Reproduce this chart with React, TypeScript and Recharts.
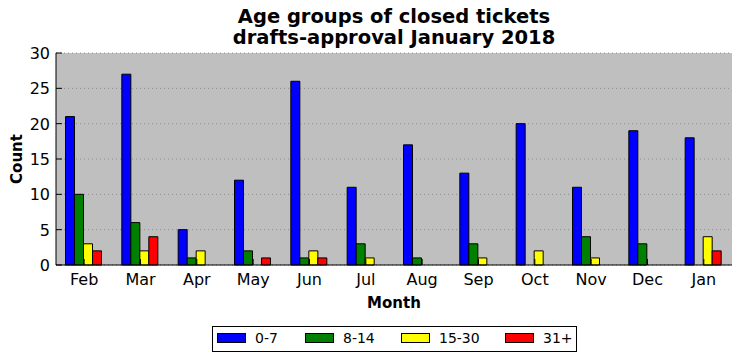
import React from "react";
import { BarChart, Bar, XAxis, YAxis, CartesianGrid, Label } from "recharts";

const months = ["Feb", "Mar", "Apr", "May", "Jun", "Jul", "Aug", "Sep", "Oct", "Nov", "Dec", "Jan"];
const age0to7 = [21, 27, 5, 12, 26, 11, 17, 13, 20, 11, 19, 18];
const age8to14 = [10, 6, 1, 2, 1, 3, 1, 3, 0, 4, 3, 0];
const age15to30 = [3, 2, 2, 0, 2, 1, 0, 1, 2, 1, 0, 4];
const age31plus = [2, 4, 0, 1, 1, 0, 0, 0, 0, 0, 0, 2];
const yTicks = [0, 5, 10, 15, 20, 25, 30];
const seriesKeys = ["a", "b", "c", "d"];
const seriesNames = ["0-7", "8-14", "15-30", "31+"];
const seriesColors = ["#0000ff", "#008000", "#ffff00", "#ff0000"];

const FONT = "'DejaVu Sans', sans-serif";

const data = months.map((m, i) => ({
  month: m,
  a: age0to7[i],
  b: age8to14[i],
  c: age15to30[i],
  d: age31plus[i],
}));

const BottomTick = (props: any) => {
  const { x, y, payload } = props;
  return (
    <g>
      <line x1={x} y1={y} x2={x} y2={y - 6} stroke="#000" />
      <text x={x} y={y + 20} textAnchor="middle" fontSize={16} fill="#000" fontFamily={FONT}>
        {payload.value}
      </text>
    </g>
  );
};

const TopTick = (props: any) => {
  const { x, y } = props;
  return <line x1={x} y1={y} x2={x} y2={y + 6} stroke="#000" />;
};

const LeftTick = (props: any) => {
  const { x, y, payload } = props;
  return (
    <g>
      <line x1={x} y1={y} x2={x + 6} y2={y} stroke="#000" />
      <text x={x - 6} y={y + 6} textAnchor="end" fontSize={16} fill="#000" fontFamily={FONT}>
        {payload.value}
      </text>
    </g>
  );
};

const RightTick = (props: any) => {
  const { x, y } = props;
  return <line x1={x} y1={y} x2={x - 6} y2={y} stroke="#000" />;
};

const legendX = [217, 305, 401, 505];

export default function App() {
  return (
    <div style={{ position: "absolute", left: 0, top: 0, width: 742, height: 361, background: "#fff", fontFamily: FONT }}>
      <div
        style={{
          position: "absolute",
          left: 0,
          width: 788,
          top: 6,
          textAlign: "center",
          fontWeight: "bold",
          fontSize: 19.5,
          lineHeight: "21px",
          color: "#000",
        }}
      >
        <div>Age groups of closed tickets</div>
        <div>drafts-approval January 2018</div>
      </div>
      <BarChart
        width={742}
        height={361}
        data={data}
        margin={{ top: 53, right: 10, left: 0, bottom: 66 }}
        barCategoryGap={9.5}
        barGap={0}
      >
        <CartesianGrid
          vertical={false}
          fill="#bfbfbf"
          stroke="#8c8c8c"
          strokeDasharray="1 3"
          horizontalValues={yTicks}
        />
        <XAxis
          dataKey="month"
          interval={0}
          height={30}
          tickSize={0}
          tickMargin={0}
          tickLine={false}
          axisLine={{ stroke: "#000" }}
          tick={<BottomTick />}
        >
          <Label
            content={(p: any) => {
              const vb = p.viewBox;
              return (
                <text
                  x={vb.x + vb.width / 2}
                  y={308}
                  textAnchor="middle"
                  fontSize={15}
                  fontWeight="bold"
                  fill="#000"
                  fontFamily={FONT}
                >
                  Month
                </text>
              );
            }}
          />
        </XAxis>
        <XAxis
          xAxisId="top"
          dataKey="month"
          orientation="top"
          interval={0}
          height={0}
          tickSize={0}
          tickMargin={0}
          tickLine={false}
          axisLine={{ stroke: "#000" }}
          tick={<TopTick />}
        />
        <YAxis
          domain={[0, 30]}
          ticks={yTicks}
          interval={0}
          width={56}
          tickSize={0}
          tickMargin={0}
          tickLine={false}
          axisLine={{ stroke: "#000" }}
          tick={<LeftTick />}
        >
          <Label
            content={(p: any) => {
              const vb = p.viewBox;
              const cy = vb.y + vb.height / 2;
              return (
                <text
                  x={17}
                  y={cy}
                  transform={`rotate(-90, 17, ${cy})`}
                  textAnchor="middle"
                  dominantBaseline="central"
                  fontSize={15}
                  fontWeight="bold"
                  fill="#000"
                  fontFamily={FONT}
                >
                  Count
                </text>
              );
            }}
          />
        </YAxis>
        <YAxis
          yAxisId="right"
          orientation="right"
          domain={[0, 30]}
          ticks={yTicks}
          interval={0}
          width={0}
          tickSize={0}
          tickMargin={0}
          tickLine={false}
          axisLine={{ stroke: "#000" }}
          tick={<RightTick />}
        />
        {seriesKeys.map((k, i) => (
          <Bar
            key={k}
            dataKey={k}
            name={seriesNames[i]}
            fill={seriesColors[i]}
            stroke="#000"
            strokeWidth={1}
            isAnimationActive={false}
          />
        ))}
      </BarChart>
      <div
        style={{
          position: "absolute",
          left: 212,
          top: 326,
          width: 363,
          height: 24,
          border: "1px solid #000",
          background: "#fff",
        }}
      />
      {seriesNames.map((n, i) => (
        <React.Fragment key={n}>
          <div
            style={{
              position: "absolute",
              left: legendX[i],
              top: 333,
              width: 27,
              height: 8,
              background: seriesColors[i],
              border: "1px solid #000",
            }}
          />
          <div
            style={{
              position: "absolute",
              left: legendX[i] + 38,
              top: 329,
              fontSize: 14,
              lineHeight: "18px",
              color: "#000",
            }}
          >
            {n}
          </div>
        </React.Fragment>
      ))}
    </div>
  );
}
